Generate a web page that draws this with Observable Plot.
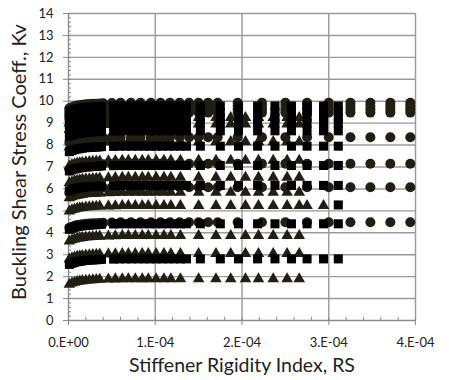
<!DOCTYPE html>
<html><head><meta charset="utf-8">
<script src="https://cdn.jsdelivr.net/npm/d3@7"></script>
<script src="https://cdn.jsdelivr.net/npm/@observablehq/plot@0.6"></script>
<style>body{margin:0;background:#fff;}</style>
</head><body><div id="chart"></div>
<script>
// x values are in units of 1E-4 (Stiffener Rigidity Index, RS)
const circleX = [0.01,0.04,0.07,0.10,0.13,0.16,0.20,0.24,0.28,0.32,0.36,0.40,0.50,0.60,0.72,0.83,0.95,1.06,1.17,1.28,1.39,1.50,1.61,1.72,1.95,2.23,2.50,2.75,3.00,3.25,3.48,3.71,3.94];
const squareX = [0.01,0.04,0.07,0.10,0.13,0.16,0.20,0.24,0.28,0.32,0.35,0.38,0.52,0.59,0.66,0.73,0.80,0.87,0.94,1.01,1.08,1.15,1.22,1.29,1.36,1.52,1.75,1.96,2.18,2.38,2.57,2.75,2.94,3.11];
const triangleX = [0.01,0.04,0.07,0.10,0.13,0.16,0.20,0.24,0.28,0.32,0.36,0.46,0.54,0.62,0.69,0.77,0.85,0.92,1.01,1.10,1.18,1.29,1.50,1.70,1.87,2.04,2.19,2.36,2.52,2.66];
// how far each of the first points sits below its plateau (same index as the x lists)
const riseOffset = [-0.25,-0.20,-0.16,-0.13,-0.11,-0.09,-0.07,-0.06,-0.05,-0.04,-0.03,-0.02,-0.01];
// plateau values of Kv for each series
const circleLevels = [9.93,9.78,9.63,9.48,8.36,7.15,6.08,4.48];
const squareLevels = [9.78,9.50,9.25,9.00,8.65,7.95,7.07,6.16,4.41,2.81];
const triangleLevels = [9.25,8.95,8.15,7.30,6.52,5.84,5.24,3.87,3.05,1.90];
// the 5.24 triangle series runs further right; one lone square at 5.27
const triangleExtraX = [2.75,2.94];
const triangleExtraLevel = 5.24;
const squareExtraX = [3.11];
const squareExtraY = [5.27];

const xTicks = [0,1,2,3,4];
const xTickLabels = ["0.E+00","1.E-04","2.E-04","3.E-04","4.E-04"];
const yTicks = [0,1,2,3,4,5,6,7,8,9,10,11,12,13,14];
const xMinor = d3.range(0, 4.001, 0.2);
const yMinor = d3.range(0, 14.001, 0.2);
const xTitle = "Stiffener Rigidity Index, RS";
const yTitle = "Buckling Shear Stress Coeff., Kv";

function build(xs, levels) {
  const out = [];
  for (const lv of levels) xs.forEach((x, i) => out.push({x, y: lv + (i < riseOffset.length ? riseOffset[i] : 0)}));
  return out;
}
const circles = build(circleX, circleLevels);
const squares = build(squareX, squareLevels);
squareExtraX.forEach((x, i) => squares.push({x, y: squareExtraY[i]}));
const triangles = build(triangleX, triangleLevels);
triangleExtraX.forEach(x => triangles.push({x, y: triangleExtraLevel}));

const gridColor = "#9a9a9a";
const axisColor = "#8a8a8a";
const font = "Lato, 'Open Sans', sans-serif";

const chart = Plot.plot({
  width: 449, height: 380,
  marginLeft: 68, marginRight: 34, marginTop: 13, marginBottom: 60,
  x: {domain: [0, 4]},
  y: {domain: [0, 14]},
  style: {fontFamily: font, background: "#fff", color: "#222"},
  marks: [
    Plot.gridY(yTicks.slice(1), {stroke: gridColor, strokeOpacity: 1, strokeWidth: 1.4}),
    Plot.gridX(xTicks.slice(1), {stroke: gridColor, strokeOpacity: 1, strokeWidth: 1.4}),
    Plot.axisX(xTicks, {tickSize: 5, tickPadding: 12, tickFormat: (d, i) => xTickLabels[i], stroke: axisColor, fill: "#222", fontSize: 13, label: null}),
    Plot.axisX(xMinor, {tickSize: 3, dy: -3, tickFormat: () => "", stroke: axisColor, label: null}),
    Plot.axisY(yTicks, {tickSize: 5, tickPadding: 10, stroke: axisColor, fill: "#222", fontSize: 13, label: null}),
    Plot.axisY(yMinor, {tickSize: 3, dx: 3, tickFormat: () => "", stroke: axisColor, label: null}),
    Plot.ruleX([0], {stroke: axisColor, strokeWidth: 1.4}),
    Plot.ruleY([0], {stroke: axisColor, strokeWidth: 1.4}),
    Plot.dot(circles, {x: "x", y: "y", r: 5, symbol: "circle", fill: "#221e12", stroke: "none"}),
    Plot.dot(triangles, {x: "x", y: "y", r: 4.3, symbol: "triangle", fill: "#221e12", stroke: "none"}),
    Plot.dot(squares, {x: "x", y: "y", r: 5.1, symbol: "square", fill: "#000", stroke: "none"}),
    Plot.text([xTitle], {frameAnchor: "bottom", textAnchor: "middle", lineAnchor: "middle", dy: 45, fontSize: 17, fill: "#222", className: "xtitle"}),
    Plot.text([yTitle], {frameAnchor: "left", textAnchor: "middle", lineAnchor: "middle", dx: -49, dy: -5, rotate: -90, fontSize: 17, fill: "#222", className: "ytitle"})
  ]
});
document.getElementById("chart").append(chart);
// fit the two titles to the widths they take in the reference
function fit(cls, target) {
  const t = chart.querySelector("." + cls + " text");
  if (!t) return;
  const len = t.getComputedTextLength();
  if (len > 0) t.setAttribute("font-size", (17 * target / len).toFixed(2));
}
fit("xtitle", 226);
fit("ytitle", 276);
</script>
</body></html>
